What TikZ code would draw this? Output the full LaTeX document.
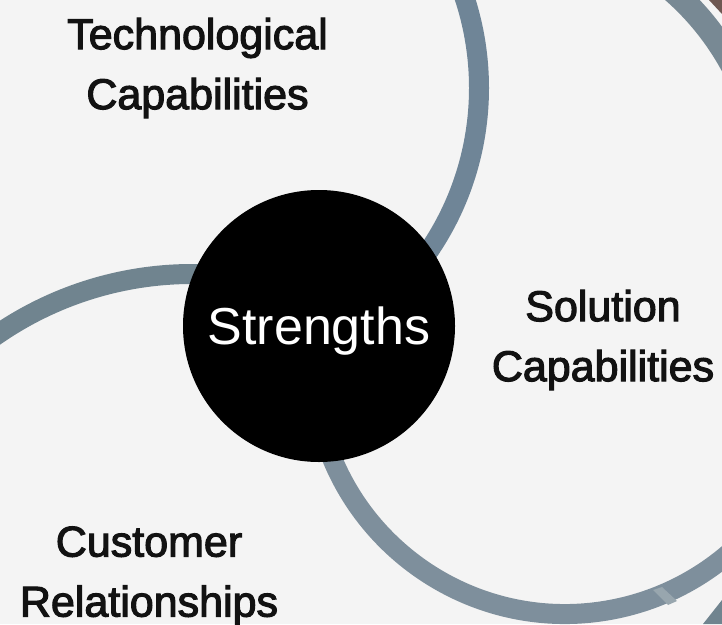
\documentclass[tikz,border=0pt]{standalone}
\usepackage{fontspec}
\setmainfont{Liberation Sans}
\newfontfamily\sidefont[FakeBold=2.6]{Liberation Sans}
\usepackage{tikz}
\definecolor{bgcol}{HTML}{F4F4F4}
\definecolor{ringtop}{HTML}{6F8597}
\definecolor{ringleft}{HTML}{70848F}
\definecolor{ringright}{HTML}{7E8F9C}
\definecolor{ringfar}{HTML}{788994}
\definecolor{rust}{HTML}{6E5852}
\definecolor{glint}{HTML}{98A6AE}

\begin{document}
\begin{tikzpicture}[x=1pt, y=-1pt,
  ring/.style={line width=20pt},
  sidetext/.style={align=center, inner sep=0pt, text=black!93, font=\sidefont\fontsize{43}{60}\selectfont}]
\fill[bgcol] (0,0) rectangle (722,624);
\clip (0,0) rectangle (722,624);
% rings behind the centre
\draw[ring, ringtop] (190,88) ++(45:289) arc[start angle=45, end angle=-45, radius=289];
\draw[ring, ringleft] (192,618) ++(-80:344) arc[start angle=-80, end angle=-180, radius=344];
\draw[ring, ringright] (565,362) ++(170:252) arc[start angle=170, end angle=20, radius=252];
\draw[ring, ringfar, line width=24pt] (495,194) ++(-60:270) arc[start angle=-60, end angle=-20, radius=270];
\fill[rust] (709,0) -- (722,0) -- (722,14) -- cycle;
\fill[ringleft] (703,624) -- (722,600) -- (722,624) -- cycle;
\fill[glint] (653,590) -- (662,587) -- (677,601) -- (668,605) -- cycle;
% centre
\node[circle, fill=black, minimum size=272pt, inner sep=0pt, text=white, text depth=0pt,
  font=\fontsize{52}{52}\selectfont] (strengths) at (319,326) {Strengths};
\node[sidetext] (tech) at (197.5,68) {Technological\\Capabilities};
\node[sidetext] (solution) at (603,340) {Solution\\Capabilities};
\node[sidetext] (customer) at (149,576) {Customer\\Relationships};
\end{tikzpicture}
\end{document}
